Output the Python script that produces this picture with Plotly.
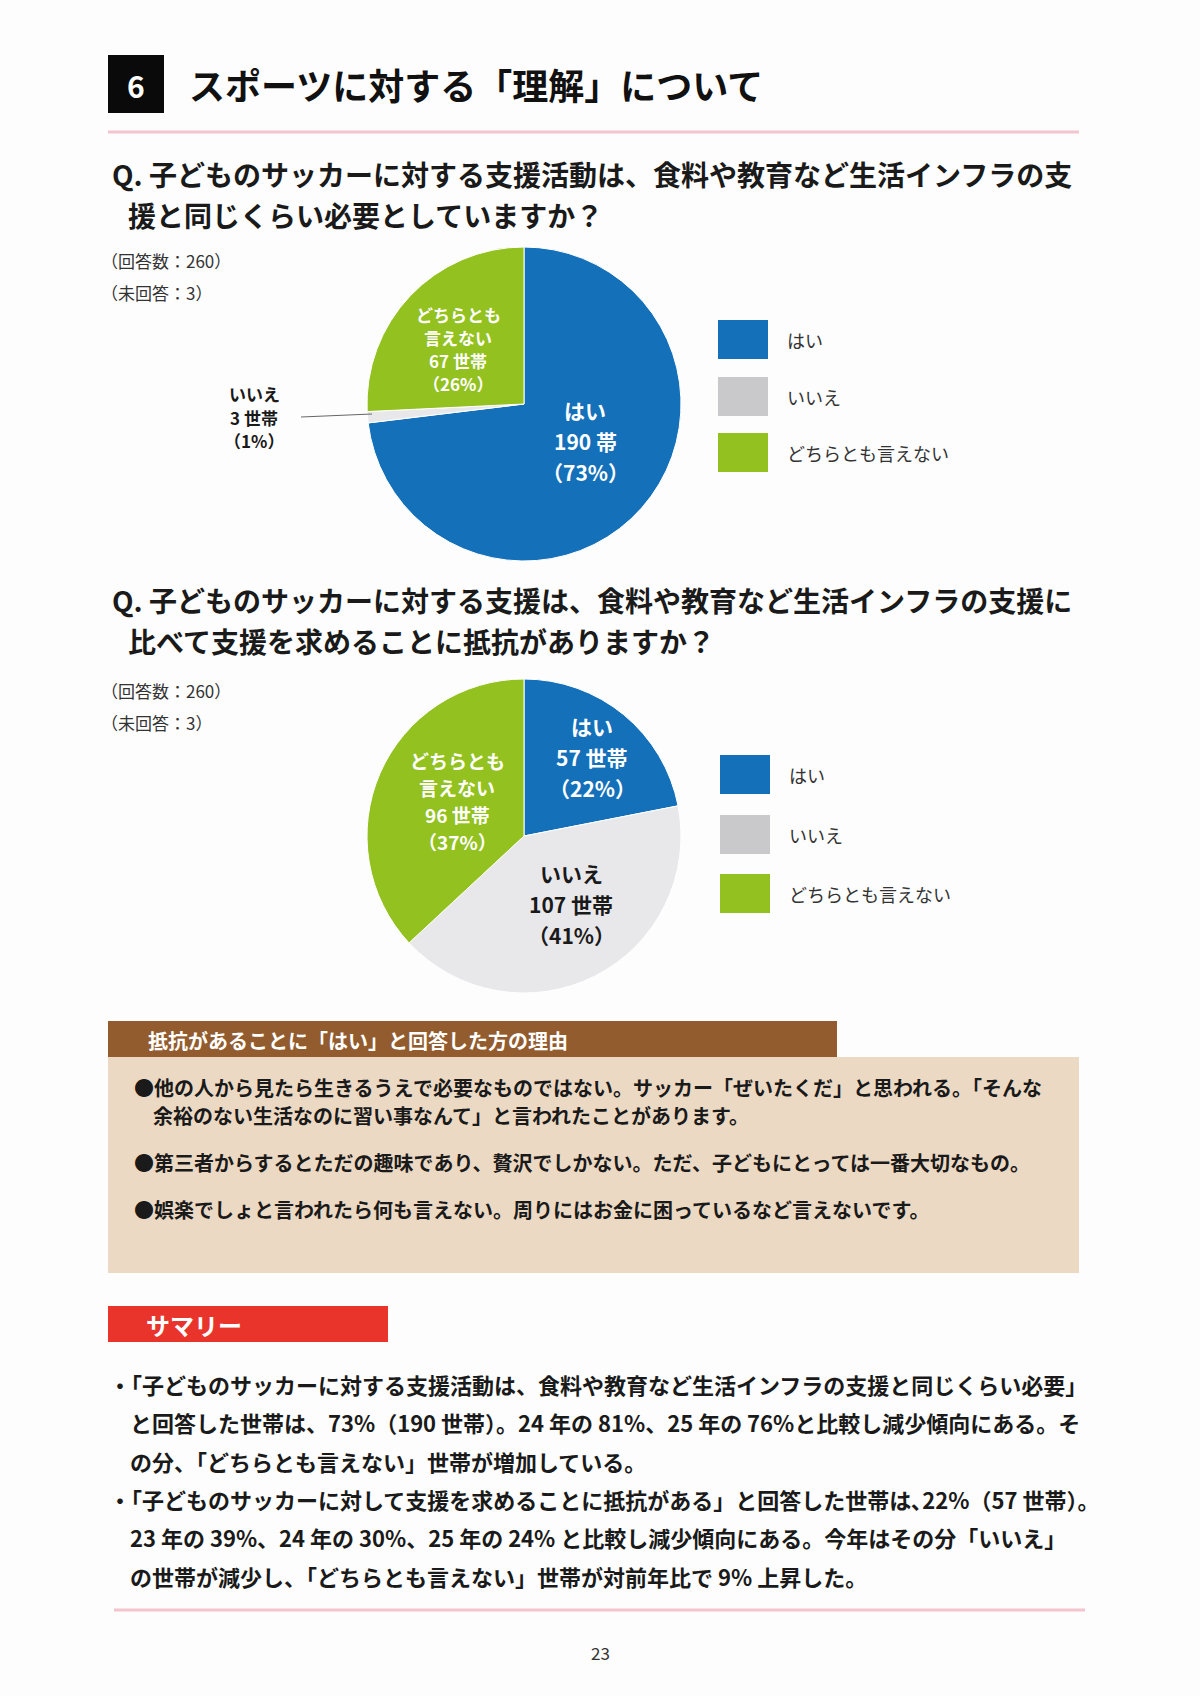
import plotly.graph_objects as go

# ---------------- data ----------------
categories = ["はい", "いいえ", "どちらとも言えない"]
label_names = [["はい"], ["いいえ"], ["どちらとも", "言えない"]]

q1_counts = [190, 3, 67]
q1_pcts = [73, 1, 26]
q1_units = ["帯", "世帯", "世帯"]

q2_counts = [57, 107, 96]
q2_pcts = [22, 41, 37]
q2_units = ["世帯", "世帯", "世帯"]

slice_colors = ["#1570BA", "#E8E8EB", "#93C11F"]
legend_colors = ["#1570BA", "#C9C9CB", "#93C11F"]

title_text = "スポーツに対する「理解」について"
q1_lines = ["Q. 子どものサッカーに対する支援活動は、食料や教育など生活インフラの支",
            "援と同じくらい必要としていますか？"]
q2_lines = ["Q. 子どものサッカーに対する支援は、食料や教育など生活インフラの支援に",
            "比べて支援を求めることに抵抗がありますか？"]
note_lines = ["（回答数：260）", "（未回答：3）"]

reason_title = "抵抗があることに「はい」と回答した方の理由"
reason_lines = [
    "●他の人から見たら生きるうえで必要なものではない。サッカー「ぜいたくだ」と思われる。「そんな",
    "余裕のない生活なのに習い事なんて」と言われたことがあります。",
    "●第三者からするとただの趣味であり、贅沢でしかない。ただ、子どもにとっては一番大切なもの。",
    "●娯楽でしょと言われたら何も言えない。周りにはお金に困っているなど言えないです。",
]
summary_title = "サマリー"
summary_lines = [
    "・「子どものサッカーに対する支援活動は、食料や教育など生活インフラの支援と同じくらい必要」",
    "と回答した世帯は、73%（190 世帯）。24 年の 81%、25 年の 76%と比較し減少傾向にある。そ",
    "の分、「どちらとも言えない」世帯が増加している。",
    "・「子どものサッカーに対して支援を求めることに抵抗がある」と回答した世帯は､22%（57 世帯）。",
    "23 年の 39%、24 年の 30%、25 年の 24% と比較し減少傾向にある。今年はその分「いいえ」",
    "の世帯が減少し、「どちらとも言えない」世帯が対前年比で 9% 上昇した。",
]
page_number = "23"

# ---------------- layout helpers ----------------
W, H = 1200, 1696
FONT = "Noto Sans CJK JP"


def X(px):
    return px / W


def Y(py):
    return 1 - py / H


annotations = []
shapes = []


def text(x, y, s, size, color="#1a1a1a", bold=False, xanchor="left", yanchor="middle", align="left"):
    annotations.append(dict(
        x=X(x), y=Y(y), xref="paper", yref="paper", text=(f"<b>{s}</b>" if bold else s),
        showarrow=False, xanchor=xanchor, yanchor=yanchor, align=align,
        font=dict(family=FONT, size=size, color=color)))


def multiline(x, yc, lines, size, spacing, color, bold=True):
    n = len(lines)
    for k, s in enumerate(lines):
        text(x, yc + (k - (n - 1) / 2) * spacing, s, size, color, bold, "center", "middle", "center")


def rect(x0, y0, x1, y1, fill, line=None):
    shapes.append(dict(type="rect", xref="paper", yref="paper",
                       x0=X(x0), x1=X(x1), y0=Y(y1), y1=Y(y0),
                       fillcolor=fill, line=dict(width=0) if line is None else line, layer="below"))


def hline(x0, x1, y, color, width):
    shapes.append(dict(type="line", xref="paper", yref="paper", x0=X(x0), x1=X(x1), y0=Y(y), y1=Y(y),
                       line=dict(color=color, width=width)))


fig = go.Figure()

# ---------------- pies ----------------
def add_pie(counts, cx, cy, r):
    fig.add_trace(go.Pie(
        labels=categories, values=counts, sort=False, direction="clockwise", rotation=0,
        marker=dict(colors=slice_colors, line=dict(color="#FFFFFF", width=1)),
        textinfo="none", hoverinfo="label+value", showlegend=False,
        domain=dict(x=[X(cx - r), X(cx + r)], y=[Y(cy + r), Y(cy - r)])))


add_pie(q1_counts, 524, 404, 157)
add_pie(q2_counts, 524, 836, 157)


def slice_lines(counts, units, pcts, i):
    return label_names[i] + [f"{counts[i]} {units[i]}", f"（{pcts[i]}%）"]


# pie 1 labels
multiline(585, 441, slice_lines(q1_counts, q1_units, q1_pcts, 0), 21, 31, "#FFFFFF")
multiline(458, 349, slice_lines(q1_counts, q1_units, q1_pcts, 2), 17, 23, "#FFFFFF")
multiline(254, 417, slice_lines(q1_counts, q1_units, q1_pcts, 1), 17, 23, "#1a1a1a")
shapes.append(dict(type="line", xref="paper", yref="paper", x0=X(301), x1=X(372), y0=Y(417), y1=Y(414),
                   line=dict(color="#666666", width=1)))

# pie 2 labels
multiline(592, 757, slice_lines(q2_counts, q2_units, q2_pcts, 0), 21, 31, "#FFFFFF")
multiline(457, 801, slice_lines(q2_counts, q2_units, q2_pcts, 2), 19, 27, "#FFFFFF")
multiline(571, 904, slice_lines(q2_counts, q2_units, q2_pcts, 1), 21, 31, "#1a1a1a")

# legends (manual squares)
for left, tops in ((718, (320, 377, 433)), (720, (755, 815, 874))):
    for i, name in enumerate(categories):
        y0 = tops[i]
        rect(left, y0, left + 50, y0 + 39, legend_colors[i])
        text(left + 67, y0 + 20, name, 18, "#333333")

# ---------------- header ----------------
rect(108, 55, 164, 113, "#0A0A0A")
text(136, 85, "6", 30, "#FFFFFF", True, "center")
text(187, 84, title_text, 36, "#111111", True)
hline(108, 1079, 132, "#F4C5CE", 3)

# questions
text(110, 174, q1_lines[0], 28, "#1a1a1a", True)
text(126, 215, q1_lines[1], 28, "#1a1a1a", True)
text(110, 600, q2_lines[0], 28, "#1a1a1a", True)
text(126, 641, q2_lines[1], 28, "#1a1a1a", True)

for base in (260, 691):
    text(99, base, note_lines[0], 17, "#333333")
    text(99, base + 32, note_lines[1], 17, "#333333")

# ---------------- reasons box ----------------
rect(108, 1057, 1079, 1273, "#ECD9C4")
rect(108, 1021, 837, 1057, "#925C2F")
text(146, 1040, reason_title, 20, "#FFFFFF", True)
text(132, 1087, reason_lines[0], 20, "#1a1a1a", True)
text(151, 1115, reason_lines[1], 20, "#1a1a1a", True)
text(132, 1162, reason_lines[2], 20, "#1a1a1a", True)
text(132, 1209, reason_lines[3], 20, "#1a1a1a", True)

# ---------------- summary ----------------
rect(108, 1306, 388, 1342, "#E8342B")
text(144, 1324, summary_title, 24, "#FFFFFF", True)
sum_y = [1384, 1422, 1461, 1499, 1537, 1576]
sum_x = [107, 128, 128, 107, 128, 128]
for sx, sy, s in zip(sum_x, sum_y, summary_lines):
    text(sx, sy, s, 22, "#1a1a1a", True)

hline(114, 1085, 1610, "#F4C5CE", 3)
text(600, 1652, page_number, 17, "#333333", False, "center")

fig.update_layout(
    width=W, height=H, margin=dict(l=0, r=0, t=0, b=0),
    paper_bgcolor="#FDFDFD", plot_bgcolor="#FDFDFD",
    annotations=annotations, shapes=shapes,
    font=dict(family=FONT),
)

fig.write_html("out.html")
